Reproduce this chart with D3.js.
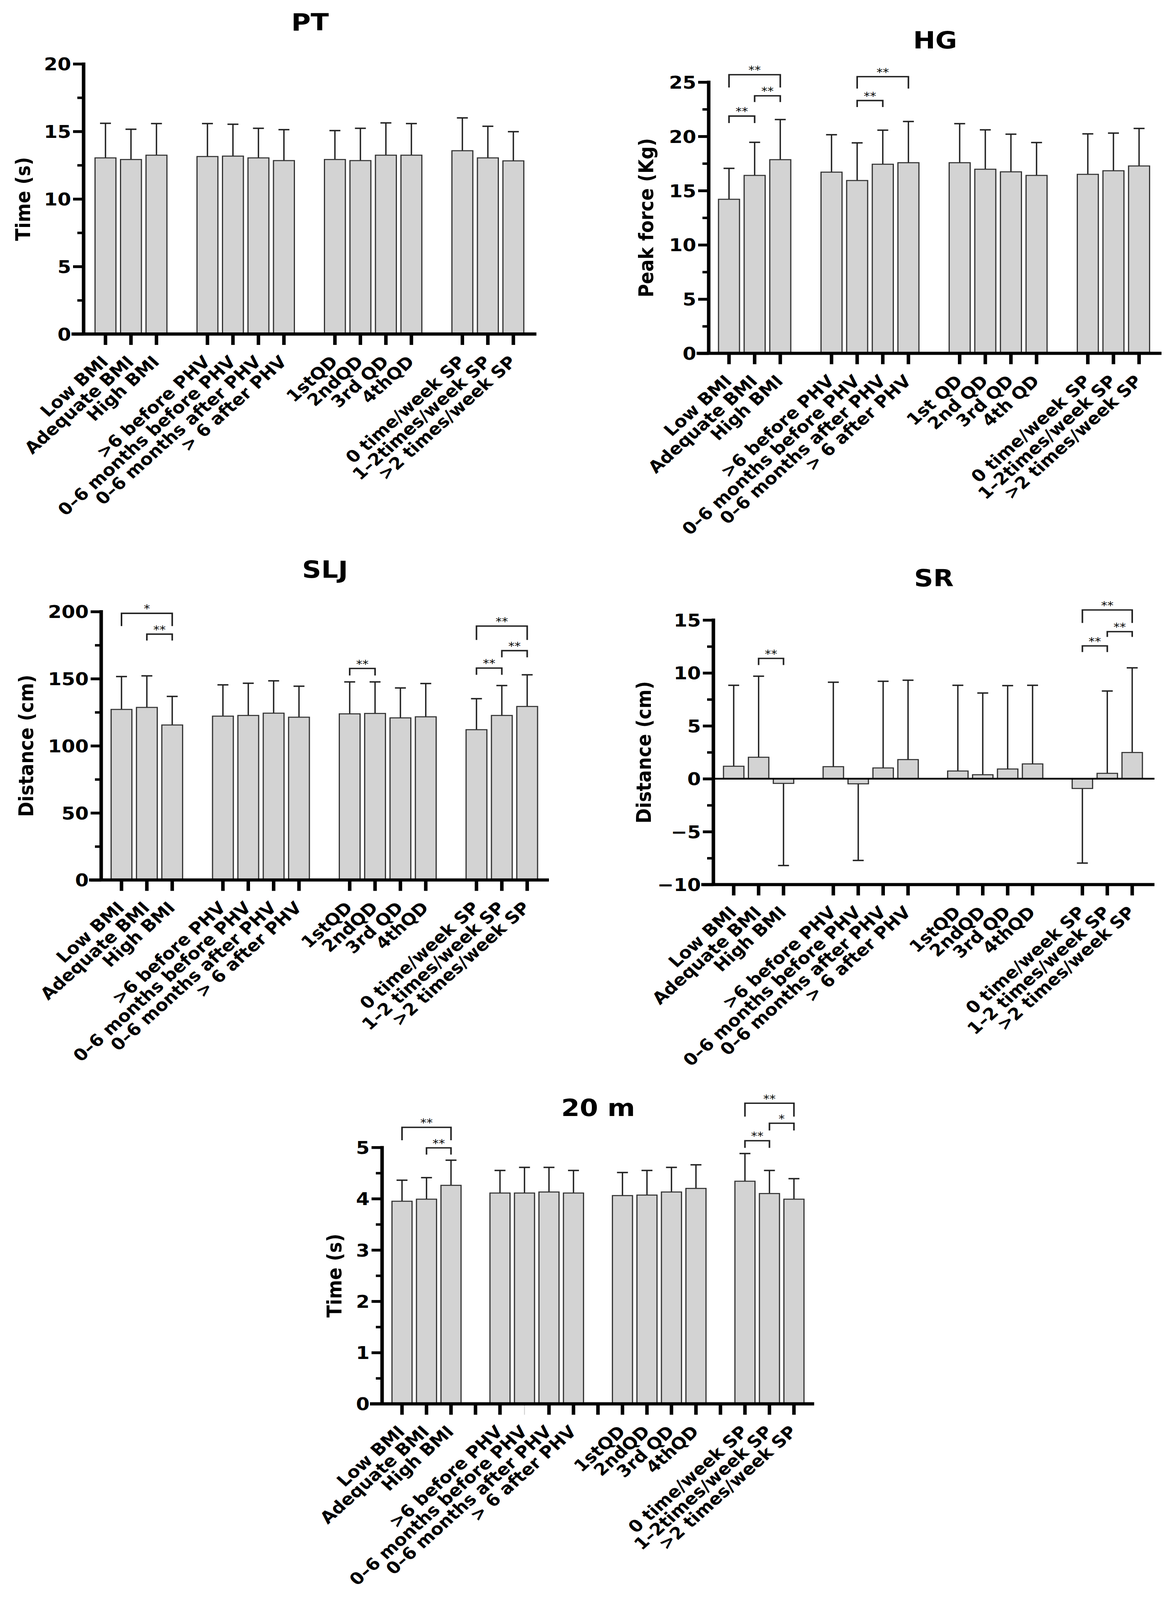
<!DOCTYPE html>
<html>
<head>
<meta charset="utf-8">
<script src="https://cdn.jsdelivr.net/npm/d3@7"></script>
<style>
  html, body { margin: 0; padding: 0; background: #fff; overflow: hidden; }
  svg { display: block; }
  svg text { font-family: "DejaVu Sans", "Liberation Sans", Arial, sans-serif; }
</style>
</head>
<body>
<div id="chart"></div>
<script>
// category labels (four groups, an empty slot between groups)
const bmiLabels = ["Low BMI", "Adequate BMI", "High BMI"];
const phvLabels = [">6 before PHV", "0–6 months before PHV", "0–6 months after PHV", "> 6 after PHV"];
const qdLabels = ["1stQD", "2ndQD", "3rd QD", "4thQD"];
const qdLabelsSpaced = ["1st QD", "2nd QD", "3rd QD", "4th QD"];
const spLabels = ["0 time/week SP", "1–2times/week SP", ">2 times/week SP"];
const spLabelsSpaced = ["0 time/week SP", "1–2 times/week SP", ">2 times/week SP"];

// slot of each of the 14 bars on the 17-slot axis
const barSlots = [0, 1, 2, 4, 5, 6, 7, 9, 10, 11, 12, 14, 15, 16];

// mean and SD for each bar
const ptMean = [13.04, 12.92, 13.24, 13.14, 13.17, 13.04, 12.84, 12.92, 12.84, 13.24, 13.24, 13.57, 13.04, 12.82];
const ptSD = [2.56, 2.24, 2.34, 2.44, 2.36, 2.19, 2.29, 2.14, 2.39, 2.39, 2.34, 2.43, 2.34, 2.16];

const hgMean = [14.2, 16.4, 17.85, 16.7, 15.93, 17.43, 17.57, 17.57, 16.97, 16.73, 16.4, 16.5, 16.83, 17.27];
const hgSD = [2.85, 3.05, 3.7, 3.45, 3.47, 3.14, 3.8, 3.6, 3.63, 3.47, 3.03, 3.73, 3.47, 3.46];

const sljMean = [127.1, 128.6, 115.5, 122.1, 122.6, 124.3, 121.3, 123.8, 124.1, 120.8, 121.6, 112.0, 122.6, 129.3];
const sljSD = [24.5, 23.5, 21.3, 23.3, 24.0, 24.1, 23.1, 23.8, 23.5, 22.3, 24.8, 23.1, 22.3, 23.6];

const srMean = [1.18, 2.03, -0.44, 1.14, -0.48, 1.02, 1.81, 0.73, 0.38, 0.92, 1.4, -0.92, 0.51, 2.48];
const srSD = [7.65, 7.66, 7.76, 7.98, 7.24, 8.19, 7.5, 8.1, 7.72, 7.88, 7.43, 7.05, 7.78, 8.0];

const runMean = [3.95, 3.99, 4.26, 4.11, 4.11, 4.13, 4.11, 4.06, 4.07, 4.13, 4.2, 4.34, 4.1, 3.99];
const runSD = [0.41, 0.42, 0.49, 0.44, 0.5, 0.48, 0.44, 0.45, 0.48, 0.48, 0.46, 0.54, 0.45, 0.4];

// significance brackets: [bar a, bar b, bracket top, leg end (data units), label]
const ptSig = [];
const hgSig = [[0, 2, 25.68, 24.5, "**"], [1, 2, 23.74, 23.16, "**"], [0, 1, 21.87, 21.23, "**"],
               [4, 6, 25.5, 24.4, "**"], [4, 5, 23.3, 22.7, "**"]];
const sljSig = [[0, 2, 198.7, 189.2, "*"], [1, 2, 183.2, 178.4, "**"], [7, 8, 157.6, 152.4, "**"],
                [11, 13, 189.2, 178.9, "**"], [12, 13, 170.9, 165.9, "**"], [11, 12, 157.9, 152.9, "**"]];
const srSig = [[1, 2, 11.37, 10.74, "**"], [11, 13, 15.95, 14.72, "**"], [12, 13, 13.9, 13.4, "**"],
               [11, 12, 12.55, 11.97, "**"]];
const runSig = [[0, 2, 5.39, 5.14, "**"], [1, 2, 4.99, 4.86, "**"], [11, 13, 5.86, 5.6, "**"],
                [12, 13, 5.47, 5.33, "*"], [11, 12, 5.13, 4.99, "**"]];

function slotLabels(qd, sp) {
  return [...bmiLabels, "", ...phvLabels, "", ...qd, "", ...sp];
}

const panels = [
  { title: "PT", yLabel: "Time (s)", labels: slotLabels(qdLabels, spLabels), mean: ptMean, sd: ptSD, sig: ptSig,
    domain: [0, 20], major: 5, axisX: 214, firstX: 270, step: 65.25, endX: 1373, top: 182, bottom: 952,
    titleY: 62, yLabelOff: 155 },
  { title: "HG", yLabel: "Peak force (Kg)", labels: slotLabels(qdLabelsSpaced, spLabels), mean: hgMean, sd: hgSD, sig: hgSig,
    domain: [0, 25], major: 5, axisX: 1814, firstX: 1866, step: 65.6, endX: 2973, top: 234, bottom: 1007,
    titleY: 113, yLabelOff: 160 },
  { title: "SLJ", yLabel: "Distance (cm)", labels: slotLabels(qdLabels, spLabelsSpaced), mean: sljMean, sd: sljSD, sig: sljSig,
    domain: [0, 200], major: 50, axisX: 259, firstX: 311, step: 64.9, endX: 1405, top: 1743, bottom: 2508,
    titleY: 1622, yLabelOff: 192 },
  { title: "SR", yLabel: "Distance (cm)", labels: slotLabels(qdLabels, spLabelsSpaced), mean: srMean, sd: srSD, sig: srSig,
    domain: [-10, 15], major: 5, axisX: 1826, firstX: 1878, step: 63.75, endX: 2955, top: 1767, bottom: 2521,
    titleY: 1646, yLabelOff: 178, zeroLine: true },
  { title: "20 m", yLabel: "Time (s)", labels: slotLabels(qdLabels, spLabels), mean: runMean, sd: runSD, sig: runSig,
    domain: [0, 5], major: 1, axisX: 978, firstX: 1029, step: 62.7, endX: 2084, top: 3270, bottom: 4001,
    titleY: 3156, yLabelOff: 122, gapTicks: true, faintTicks: [5] }
];

// drawn on a 3005x4560 canvas, stretched to whatever the window shows
const W = 3005, H = 4560;
const svg = d3.select("#chart").append("svg")
  .attr("viewBox", `0 0 ${W} ${H}`)
  .attr("preserveAspectRatio", "none")
  .attr("width", window.innerWidth || W)
  .attr("height", window.innerHeight || H)
  .style("background", "#fff");

function drawPanel(p) {
  const g = svg.append("g");

  const x = d3.scaleBand()
    .domain(d3.range(17))
    .range([p.firstX - p.step / 2, p.firstX + 16.5 * p.step])
    .paddingInner(0.18)
    .paddingOuter(0.09);

  const y = d3.scaleLinear().domain(p.domain).range([p.bottom, p.top]);

  const bars = p.mean.map((m, i) => ({ slot: barSlots[i], mean: m, sd: p.sd[i] }));
  const cx = d => x(d.slot) + x.bandwidth() / 2;
  const tip = d => d.mean >= 0 ? d.mean + d.sd : d.mean - d.sd;

  // error bars under the bars
  g.selectAll("line.err").data(bars).join("line")
    .attr("x1", cx).attr("x2", cx)
    .attr("y1", d => y(d.mean)).attr("y2", d => y(tip(d)))
    .attr("stroke", "#222").attr("stroke-width", 3.5);
  g.selectAll("line.cap").data(bars).join("line")
    .attr("x1", d => cx(d) - 14).attr("x2", d => cx(d) + 14)
    .attr("y1", d => y(tip(d))).attr("y2", d => y(tip(d)))
    .attr("stroke", "#222").attr("stroke-width", 4);

  g.selectAll("rect.bar").data(bars).join("rect")
    .attr("x", d => x(d.slot))
    .attr("width", x.bandwidth())
    .attr("y", d => Math.min(y(d.mean), y(0)))
    .attr("height", d => Math.abs(y(d.mean) - y(0)))
    .attr("fill", "#d3d3d3")
    .attr("stroke", "#333")
    .attr("stroke-width", 3);

  if (p.zeroLine) {
    g.append("line")
      .attr("x1", p.axisX).attr("x2", p.endX)
      .attr("y1", y(0)).attr("y2", y(0))
      .attr("stroke", "#000").attr("stroke-width", 5);
  }

  // y axis: minor and major ticks
  const majors = d3.range(p.domain[0], p.domain[1] + p.major / 2, p.major);
  const minors = d3.range(p.domain[0] + p.major / 2, p.domain[1], p.major);

  const gyMinor = g.append("g").attr("transform", `translate(${p.axisX},0)`)
    .call(d3.axisLeft(y).tickValues(minors).tickSize(16).tickFormat(""));
  gyMinor.select(".domain").remove();
  gyMinor.selectAll(".tick line").attr("stroke", "#000").attr("stroke-width", 7);

  const gy = g.append("g").attr("transform", `translate(${p.axisX},0)`)
    .call(d3.axisLeft(y).tickValues(majors).tickSize(27).tickPadding(5).tickFormat(d3.format("d")));
  gy.select(".domain").remove();
  gy.selectAll(".tick line").attr("stroke", "#000").attr("stroke-width", 8);
  gy.selectAll(".tick text")
    .attr("dy", "0.36em")
    .style("font-size", "50px")
    .style("font-weight", "bold")
    .attr("fill", "#000");

  // x axis ticks and rotated labels
  const tickSlots = p.gapTicks ? d3.range(17) : barSlots;
  const faint = p.faintTicks || [];
  const gx = g.append("g").attr("transform", `translate(0,${p.bottom})`)
    .call(d3.axisBottom(x).tickValues(tickSlots).tickSize(31).tickFormat(s => p.labels[s]));
  gx.select(".domain").remove();
  gx.selectAll(".tick line")
    .attr("stroke", s => faint.includes(s) ? "#c8c8c8" : "#000")
    .attr("stroke-width", s => faint.includes(s) ? 2 : 9);
  gx.selectAll(".tick text")
    .attr("x", 0).attr("y", 0).attr("dy", 0)
    .attr("text-anchor", "end")
    .attr("transform", "translate(10,82) rotate(-45)")
    .style("font-size", "47px")
    .style("font-weight", "bold")
    .attr("fill", "#000");

  // axis lines
  g.append("line")
    .attr("x1", p.axisX).attr("x2", p.axisX)
    .attr("y1", p.top - 4).attr("y2", p.bottom)
    .attr("stroke", "#000").attr("stroke-width", 9);
  g.append("line")
    .attr("x1", p.axisX - 31).attr("x2", p.endX)
    .attr("y1", p.bottom).attr("y2", p.bottom)
    .attr("stroke", "#000").attr("stroke-width", 9);

  // significance brackets
  const bx = i => x(barSlots[i]) + x.bandwidth() / 2;
  g.selectAll("path.sig").data(p.sig).join("path")
    .attr("d", d => `M${bx(d[0])},${y(d[3])}V${y(d[2])}H${bx(d[1])}V${y(d[3])}`)
    .attr("fill", "none").attr("stroke", "#222").attr("stroke-width", 4);
  g.selectAll("text.sig").data(p.sig).join("text")
    .attr("x", d => (bx(d[0]) + bx(d[1])) / 2)
    .attr("y", d => y(d[2]) - 2)
    .attr("text-anchor", "middle")
    .style("font-size", "32px")
    .attr("fill", "#000")
    .text(d => d[4]);

  // titles
  g.append("text")
    .attr("x", (p.axisX + p.endX) / 2)
    .attr("y", p.titleY + 25)
    .attr("text-anchor", "middle")
    .style("font-size", "68px")
    .style("font-weight", "bold")
    .text(p.title);

  g.append("text")
    .attr("transform", `translate(${p.axisX - p.yLabelOff},${(p.top + p.bottom) / 2}) rotate(-90)`)
    .attr("text-anchor", "middle")
    .attr("dy", "0.35em")
    .style("font-size", "52px")
    .style("font-weight", "bold")
    .text(p.yLabel);
}

panels.forEach(drawPanel);
</script>
</body>
</html>
